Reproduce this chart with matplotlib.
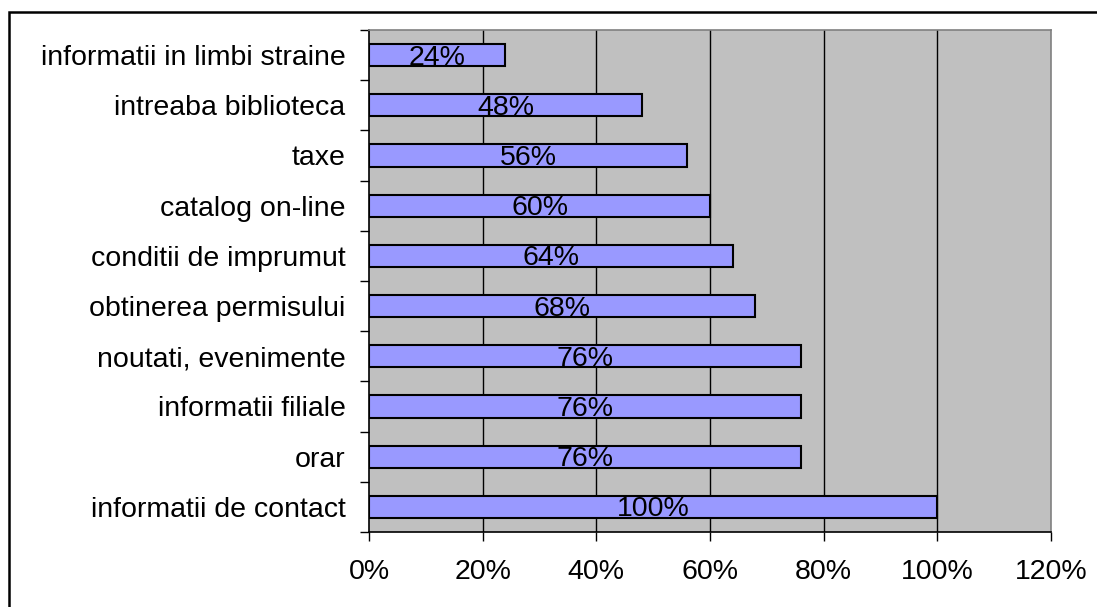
import matplotlib.pyplot as plt
import numpy as np
from matplotlib.patches import Rectangle

categories = ["informatii de contact", "orar", "informatii filiale", "noutati, evenimente",
              "obtinerea permisului", "conditii de imprumut", "catalog on-line", "taxe",
              "intreaba biblioteca", "informatii in limbi straine"]
values = [100, 76, 76, 76, 68, 64, 60, 56, 48, 24]
xticks = [0, 20, 40, 60, 80, 100, 120]

plt.rcParams['font.family'] = ['Liberation Sans', 'DejaVu Sans']

fig = plt.figure(figsize=(10.97, 6.07), dpi=100)
ax = fig.add_axes([0.3364, 0.1236, 0.6216, 0.827])
ax.set_facecolor('#C0C0C0')

y = np.arange(len(categories))
ax.barh(y, values, height=0.44, color='#9999FF', edgecolor='black', linewidth=1.5, zorder=3)
for yi, v in zip(y, values):
    ax.text(v / 2, yi - 0.05, f"{v}%", ha='center', va='center', fontsize=20.5, zorder=4)

ax.set_xlim(0, 120)
ax.set_ylim(-0.5, len(categories) - 0.5)
ax.set_xticks(xticks)
ax.set_xticklabels([f"{t}%" for t in xticks], fontsize=20.5)
ax.set_yticks(y)
ax.set_yticklabels(categories, fontsize=20.5)
ax.set_yticks(np.arange(-0.5, len(categories), 1), minor=True)
ax.tick_params(axis='y', which='major', length=0, pad=17)
ax.tick_params(axis='y', which='minor', length=6.5, width=1, direction='out')
ax.tick_params(axis='x', length=6.5, width=1, direction='out', pad=13)
for t in xticks[1:-1]:
    ax.axvline(t, color='black', linewidth=1, zorder=1)

ax.spines['left'].set_color('black')
ax.spines['bottom'].set_color('black')
ax.spines['top'].set_color('#808080')
ax.spines['right'].set_color('#808080')
for s in ax.spines.values():
    s.set_linewidth(1.2)

fig.patches.append(Rectangle((0.0085, -0.05), 1.1, 1.03, transform=fig.transFigure,
                             fill=False, edgecolor='black', linewidth=1.8))

fig.savefig('out.png', dpi=100)
